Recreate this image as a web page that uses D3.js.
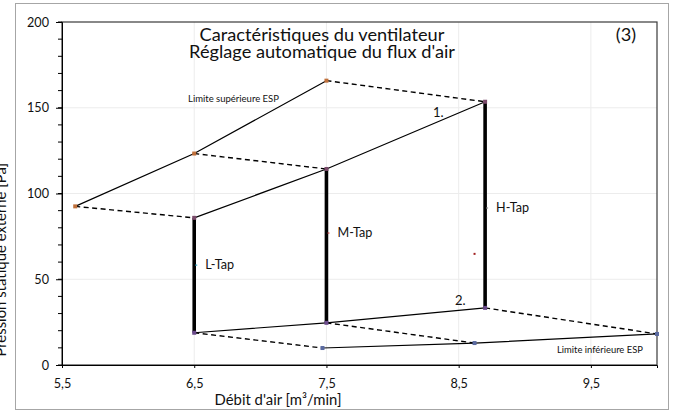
<!DOCTYPE html>
<html><head><meta charset="utf-8">
<script src="https://cdn.jsdelivr.net/npm/d3@7"></script>
<style>body{margin:0;background:#fff}svg{display:block}text{font-family:Lato,"Open Sans",sans-serif;fill:#111}</style>
</head><body><svg id="c" width="673" height="415"></svg>
<script>
// ---- data ----
const upperLimitX = [5.6, 6.5, 7.5];
const upperLimitY = [92.5, 123.3, 165.8];
const curve1X = [6.5, 7.5, 8.7];
const curve1Y = [85.8, 114.3, 153.5];
const curve2X = [6.5, 7.5, 8.7];
const curve2Y = [18.8, 24.6, 33.3];
const lowerLimitX = [7.47, 8.62, 10.0];
const lowerLimitY = [9.9, 12.8, 18.1];
const tapLabels = ["L-Tap", "M-Tap", "H-Tap"];
const tapLabelY = [58.3, 77.0, 91.6];
const strayX = [8.62];
const strayY = [64.8];
const xTicks = [5.5, 6.5, 7.5, 8.5, 9.5];
const xTickLabels = ["5,5", "6,5", "7,5", "8,5", "9,5"];
const yTicks = [0, 50, 100, 150, 200];
const yMinorTicks = d3.range(0, 201, 10);
const titleLines = ["Caractéristiques du ventilateur", "Réglage automatique du flux d'air"];
const xTitle = "Débit d'air [m³/min]";
const yTitle = "Pression statique externe [Pa]";

const svg = d3.select("#c");
const L = 62, R = 657, T = 22, B = 365;
const x = d3.scaleLinear().domain([5.5, 10]).range([L, R]);
const y = d3.scaleLinear().domain([0, 200]).range([B, T]);

function fitSize(sel, base, target) {
  sel.attr("font-size", base);
  const w = sel.node().getComputedTextLength();
  const s = base * target / w;
  sel.attr("font-size", s);
  return s;
}

// outer frame
svg.append("rect").attr("x", 15.5).attr("y", 3.5).attr("width", 653).attr("height", 406)
  .attr("fill", "#fff").attr("stroke", "#a6a6a6");

// grid
svg.append("g").selectAll("line").data(xTicks.slice(1)).join("line")
  .attr("x1", d => x(d)).attr("x2", d => x(d)).attr("y1", T).attr("y2", B)
  .attr("stroke", "#ececec");
svg.append("g").selectAll("line").data(yTicks.slice(1, -1)).join("line")
  .attr("x1", L).attr("x2", R).attr("y1", d => y(d)).attr("y2", d => y(d))
  .attr("stroke", "#ececec");

// plot border
svg.append("rect").attr("x", L).attr("y", T).attr("width", R - L).attr("height", B - T)
  .attr("fill", "none").attr("stroke", "#3a3a3a").attr("stroke-width", 1.2);

// axes
const yAxis = d3.axisLeft(y).tickValues(yTicks).tickSize(6).tickPadding(7);
const gy = svg.append("g").attr("transform", `translate(${L},0)`).call(yAxis);
gy.select(".domain").attr("stroke", "#000");
svg.append("g").selectAll("line").data(yMinorTicks).join("line")
  .attr("x1", L - 4).attr("x2", L).attr("y1", d => y(d)).attr("y2", d => y(d)).attr("stroke", "#000");

const xAxis = d3.axisBottom(x).tickValues(xTicks).tickFormat((d, i) => xTickLabels[i]).tickSize(3).tickPadding(11);
const gx = svg.append("g").attr("transform", `translate(0,${B})`).call(xAxis);
gx.select(".domain").attr("stroke", "#000");

// tick label size fitted to "200" width
const t200 = gy.selectAll(".tick text").filter(d => d === 200);
t200.style("font-family", "Lato, sans-serif");
const tickFs = fitSize(t200, 12, 22);
gy.selectAll(".tick text").attr("font-size", tickFs).style("font-family", "Lato, sans-serif");
gx.selectAll(".tick text").attr("font-size", tickFs).style("font-family", "Lato, sans-serif");

// lines
const line = d3.line().x(d => x(d[0])).y(d => y(d[1]));
const zip = (a, b) => a.map((v, i) => [v, b[i]]);
const solid = (pts, w) => svg.append("path").attr("d", line(pts)).attr("fill", "none")
  .attr("stroke", "#000").attr("stroke-width", w || 1.2);
const dashed = (pts) => svg.append("path").attr("d", line(pts)).attr("fill", "none")
  .attr("stroke", "#000").attr("stroke-width", 1.4).attr("stroke-dasharray", "5,3.5");

const up = zip(upperLimitX, upperLimitY), c1 = zip(curve1X, curve1Y),
      c2 = zip(curve2X, curve2Y), lo = zip(lowerLimitX, lowerLimitY);
up.forEach((p, i) => dashed([p, c1[i]]));
c2.forEach((p, i) => dashed([p, lo[i]]));
solid(up); solid(c1); solid(c2); solid(lo);
c1.forEach((p, i) => solid([p, c2[i]], 3.6));

// markers
const mark = (pts, col) => svg.append("g").selectAll("rect").data(pts).join("rect")
  .attr("x", d => x(d[0]) - 2).attr("y", d => y(d[1]) - 2).attr("width", 4).attr("height", 4)
  .attr("fill", col);
mark(up, "#c0703a");
mark(c1, "#7a4a6a");
mark(c2, "#6a4a8a");
mark(lo, "#5a6aa0");
svg.append("g").selectAll("rect").data(zip(strayX, strayY)).join("rect")
  .attr("x", d => x(d[0]) - 1).attr("y", d => y(d[1]) - 1).attr("width", 2).attr("height", 2).attr("fill", "#a02020");

// tap labels
const tapCols = ["#2aa0c0", "#c04040", "#888"];
const tapTexts = tapLabels.map((t, i) => {
  svg.append("rect").attr("x", x(curve1X[i]) + 1).attr("y", y(tapLabelY[i]) - 0.5).attr("width", 2).attr("height", 1.2).attr("fill", tapCols[i]);
  return svg.append("text").attr("x", x(curve1X[i]) + 11).attr("y", y(tapLabelY[i]) + 4).text(t);
});
const tapFs = fitSize(tapTexts[1], 11, 35);
tapTexts.forEach(s => s.attr("font-size", tapFs));

// annotations
fitSize(svg.append("text").attr("x", 188).attr("y", 102).text("Limite supérieure ESP"), 8, 91);
fitSize(svg.append("text").attr("x", 557).attr("y", 353).text("Limite inférieure ESP"), 8, 86);
svg.append("text").attr("x", 433).attr("y", 117).attr("font-size", 13).text("1.");
svg.append("text").attr("x", 455).attr("y", 305).attr("font-size", 13).text("2.");

// titles
const tl = titleLines.map((t, i) => svg.append("text").attr("x", 322).attr("y", 40.5 + i * 17)
  .attr("text-anchor", "middle").text(t));
const titleFs = fitSize(tl[1], 16, 266);
tl[0].attr("font-size", titleFs);
svg.append("text").attr("x", 626).attr("y", 41).attr("text-anchor", "middle").attr("font-size", titleFs).text("(3)");

const xt = svg.append("text").attr("x", 278).attr("y", 405).attr("text-anchor", "middle").text(xTitle);
const axFs = fitSize(xt, 13, 127);
svg.append("text").attr("transform", "translate(6,163) rotate(-90)").attr("text-anchor", "end")
  .attr("font-size", axFs).text(yTitle);
</script></body></html>
